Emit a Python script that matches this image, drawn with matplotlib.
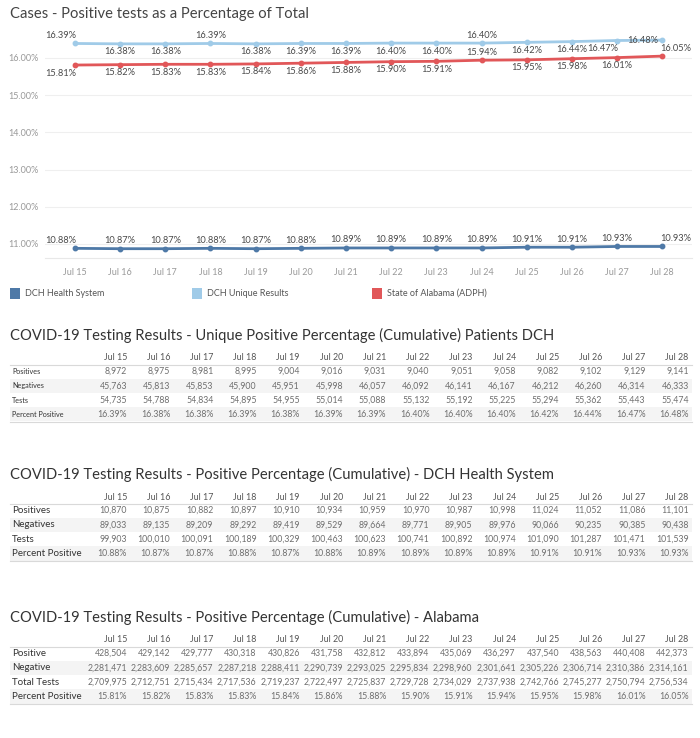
import numpy as np
import matplotlib.pyplot as plt
from matplotlib.patches import Rectangle

plt.rcParams['font.family'] = ['Lato', 'DejaVu Sans']

W, H = 700, 738

# Data
days = ['Jul 15', 'Jul 16', 'Jul 17', 'Jul 18', 'Jul 19', 'Jul 20', 'Jul 21',
        'Jul 22', 'Jul 23', 'Jul 24', 'Jul 25', 'Jul 26', 'Jul 27', 'Jul 28']
series_names = ['DCH Health System', 'DCH Unique Results', 'State of Alabama (ADPH)']

dch_system_pct = [10.88, 10.87, 10.87, 10.88, 10.87, 10.88, 10.89,
                  10.89, 10.89, 10.89, 10.91, 10.91, 10.93, 10.93]
dch_unique_pct = [16.39, 16.38, 16.38, 16.39, 16.38, 16.39, 16.39,
                  16.40, 16.40, 16.40, 16.42, 16.44, 16.47, 16.48]
alabama_pct = [15.81, 15.82, 15.83, 15.83, 15.84, 15.86, 15.88,
               15.90, 15.91, 15.94, 15.95, 15.98, 16.01, 16.05]

unique_pos = [8972, 8975, 8981, 8995, 9004, 9016, 9031, 9040, 9051, 9058, 9082, 9102, 9129, 9141]
unique_neg = [45763, 45813, 45853, 45900, 45951, 45998, 46057, 46092, 46141, 46167,
              46212, 46260, 46314, 46333]
unique_tests = [54735, 54788, 54834, 54895, 54955, 55014, 55088, 55132, 55192, 55225,
                55294, 55362, 55443, 55474]

system_pos = [10870, 10875, 10882, 10897, 10910, 10934, 10959, 10970, 10987, 10998,
              11024, 11052, 11086, 11101]
system_neg = [89033, 89135, 89209, 89292, 89419, 89529, 89664, 89771, 89905, 89976,
              90066, 90235, 90385, 90438]
system_tests = [99903, 100010, 100091, 100189, 100329, 100463, 100623, 100741, 100892,
                100974, 101090, 101287, 101471, 101539]

al_pos = [428504, 429142, 429777, 430318, 430826, 431758, 432812, 433894, 435069,
          436297, 437540, 438563, 440408, 442373]
al_neg = [2281471, 2283609, 2285657, 2287218, 2288411, 2290739, 2293025, 2295834,
          2298960, 2301641, 2305226, 2306714, 2310386, 2314161]
al_tests = [2709975, 2712751, 2715434, 2717536, 2719237, 2722497, 2725837, 2729728,
            2734029, 2737938, 2742766, 2745277, 2750794, 2756534]

# Styling
colors = ['#4e79a7', '#a0cbe8', '#e15759']
# label placement per point (Tableau-like)
label_pos = [
    ['a<'] + ['a'] * 12 + ['a>'],
    ['a<', 'b', 'b', 'a', 'b', 'b', 'b', 'b', 'b', 'a', 'b', 'b', 'b<', '<'],
    ['b<', 'b', 'b', 'b', 'b', 'b', 'b', 'b', 'b', 'a', 'b', 'b', 'b', 'a>'],
]
offsets = {'a': (0, 8, 'center'), 'b': (0, -8, 'center'), 'a<': (1, 8, 'right'),
           'b<': (1, -8, 'right'), '<': (-4, 0, 'right'), 'a>': (-2, 8, 'left')}

fig = plt.figure(figsize=(W / 100, H / 100), dpi=100)
bg = fig.add_axes([0, 0, 1, 1])
bg.set_xlim(0, W)
bg.set_ylim(H, 0)
bg.axis('off')


def px_box(l, t, r, b):
    return [l / W, 1 - b / H, (r - l) / W, (b - t) / H]


# ---- line chart ----
bg.text(10, 14, 'Cases - Positive tests as a Percentage of Total', fontsize=10.6,
        color='#444444', va='center')

ax = fig.add_axes(px_box(45, 26, 692, 258))
ax.patch.set_alpha(0)
x = np.arange(len(days))
for vals, c, lp in zip([dch_system_pct, dch_unique_pct, alabama_pct], colors, label_pos):
    ax.plot(x, vals, color=c, lw=2, marker='o', ms=3.2, zorder=3)
    for xi, v, p in zip(x, vals, lp):
        dx, dy, ha = offsets[p]
        ax.annotate(f'{v:.2f}%', (xi, v), xytext=(dx, dy), textcoords='offset pixels',
                    ha=ha, va='center', fontsize=6.7, color='#4a4a4a', zorder=4)

ax.set_xlim(-0.664, 13.66)
ax.set_ylim(10.62, 16.86)
ax.set_yticks(range(11, 17))
ax.set_yticklabels([f'{v:.2f}%' for v in range(11, 17)])
ax.set_xticks(x)
ax.set_xticklabels(days)
ax.tick_params(length=0, labelsize=6.5, labelcolor='#999999')
ax.tick_params(axis='y', pad=5)
ax.tick_params(axis='x', pad=7)
ax.grid(axis='y', color='#efefef', lw=0.8)
ax.set_axisbelow(True)
for s in ['top', 'left', 'right']:
    ax.spines[s].set_visible(False)
ax.spines['bottom'].set_color('#e8e8e8')

# legend
for lx, name, c in zip([10, 192, 372], series_names, colors):
    bg.add_patch(Rectangle((lx, 288), 10, 11, color=c, lw=0))
    bg.text(lx + 15, 293.5, name, fontsize=6.5, color='#555555', va='center')


# ---- tables ----
def col_right(j):
    return 127 + j * 43.2


def draw_table(title, title_y, row_names, rows, label_size):
    bg.text(10, title_y, title, fontsize=10.6, color='#333333', va='center')
    hy = title_y + 23
    for j, d in enumerate(days):
        bg.text(col_right(j), hy, d, fontsize=6.4, color='#555555', ha='right', va='center')
    bg.plot([10, 692], [hy + 7, hy + 7], color='#d9d9d9', lw=0.8)
    for i, (name, vals) in enumerate(zip(row_names, rows)):
        ry = hy + 13.5 + i * 14.3
        if i % 2 == 1:
            bg.add_patch(Rectangle((10, ry - 7.1), 682, 14.2, color='#f4f4f4', lw=0, zorder=0))
        bg.text(12, ry, name, fontsize=label_size, color='#333333', va='center')
        for j, v in enumerate(vals):
            bg.text(col_right(j), ry, v, fontsize=6.3, color='#6e6e6e', ha='right', va='center')
    by = hy + 13.5 + (len(rows) - 0.5) * 14.3
    bg.plot([10, 692], [by, by], color='#d9d9d9', lw=0.8)


def counts(vals):
    return [f'{v:,}' for v in vals]


def pcts(vals):
    return [f'{v:.2f}%' for v in vals]


draw_table('COVID-19 Testing Results - Unique Positive Percentage (Cumulative) Patients DCH', 335,
           ['Positives', 'Negatives', 'Tests', 'Percent Positive'],
           [counts(unique_pos), counts(unique_neg), counts(unique_tests), pcts(dch_unique_pct)], 5.2)
draw_table('COVID-19 Testing Results - Positive Percentage (Cumulative) - DCH Health System', 474,
           ['Positives', 'Negatives', 'Tests', 'Percent Positive'],
           [counts(system_pos), counts(system_neg), counts(system_tests), pcts(dch_system_pct)], 7)
draw_table('COVID-19 Testing Results - Positive Percentage (Cumulative) - Alabama', 617,
           ['Positive', 'Negative', 'Total Tests', 'Percent Positive'],
           [counts(al_pos), counts(al_neg), counts(al_tests), pcts(alabama_pct)], 7)

fig.savefig('out.png', dpi=100)
